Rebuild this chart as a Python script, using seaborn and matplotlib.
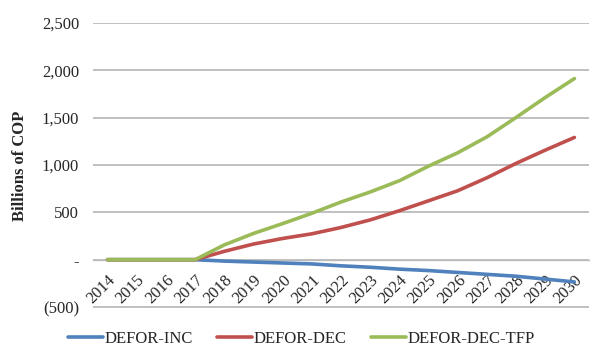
import matplotlib
matplotlib.use("Agg")
import matplotlib.pyplot as plt
import matplotlib.ticker as mticker
import seaborn as sns
import pandas as pd

years = list(range(2014, 2031))
defor_inc = [0, 0, 0, 0, -15, -25, -35, -45, -65, -80, -100, -115, -135, -155, -175, -205, -235]
defor_dec = [0, 0, 0, 0, 88, 165, 224, 273, 340, 420, 517, 622, 728, 865, 1017, 1157, 1291]
defor_dec_tfp = [0, 0, 0, 0, 156, 277, 381, 490, 609, 715, 834, 988, 1129, 1297, 1502, 1713, 1913]
series_names = ["DEFOR-INC", "DEFOR-DEC", "DEFOR-DEC-TFP"]
colors = ["#4F81BD", "#C0504D", "#9BBB59"]
y_ticks = [-500, 0, 500, 1000, 1500, 2000, 2500]

rows = []
for name, vals in zip(series_names, [defor_inc, defor_dec, defor_dec_tfp]):
    for y, v in zip(years, vals):
        rows.append({"Year": y, "Value": v, "Series": name})
df = pd.DataFrame(rows)

sns.set_theme(style="white")
plt.rcParams["font.family"] = ["Liberation Serif", "DejaVu Serif"]

fig = plt.figure(figsize=(5.97, 3.48), dpi=100)
ax = fig.add_axes([93 / 597, 39.1 / 348, 496 / 597, 285.9 / 348])

sns.lineplot(data=df, x="Year", y="Value", hue="Series", hue_order=series_names,
             palette=colors, linewidth=2.6, ax=ax, legend=True)

ax.set_xlim(2013.5, 2030.5)
ax.set_ylim(-520, 2500)

for s in ["top", "right", "left"]:
    ax.spines[s].set_visible(False)
ax.spines["bottom"].set_position(("data", 0))
ax.spines["bottom"].set_color("#BFBFBF")
ax.spines["bottom"].set_linewidth(1.0)
ax.spines["bottom"].set_zorder(1)

ax.set_yticks(y_ticks)

def yfmt(v, pos):
    if v == 0:
        return "-"
    if v < 0:
        return "({:,.0f})".format(-v)
    return "{:,.0f}".format(v)

ax.yaxis.set_major_formatter(mticker.FuncFormatter(yfmt))
ax.set_xticks(years)
ax.set_xticklabels([str(y) for y in years])
ax.tick_params(axis="y", labelsize=12, length=0, pad=10)
ax.tick_params(axis="x", length=0, pad=9, labelsize=12)
for lab in ax.get_xticklabels():
    lab.set_rotation(45)
    lab.set_ha("right")
    lab.set_rotation_mode("anchor")

ax.grid(False)
ax.hlines(y_ticks, 2013.5, 2030.5, colors="#BBBBBB", linewidth=1.3, zorder=1.5)

ax.set_xlabel("")
ax.set_ylabel("Billions of COP", fontsize=12, fontweight="bold", labelpad=10)

handles, labels = ax.get_legend_handles_labels()
ax.get_legend().remove()
fig.legend(handles, labels, loc="center", bbox_to_anchor=(0.505, 1 - 339 / 348),
           ncol=3, frameon=False, fontsize=12, handlelength=2.1, columnspacing=1.45,
           handletextpad=0.1, borderpad=0.0)

fig.savefig("out.png", dpi=100)
